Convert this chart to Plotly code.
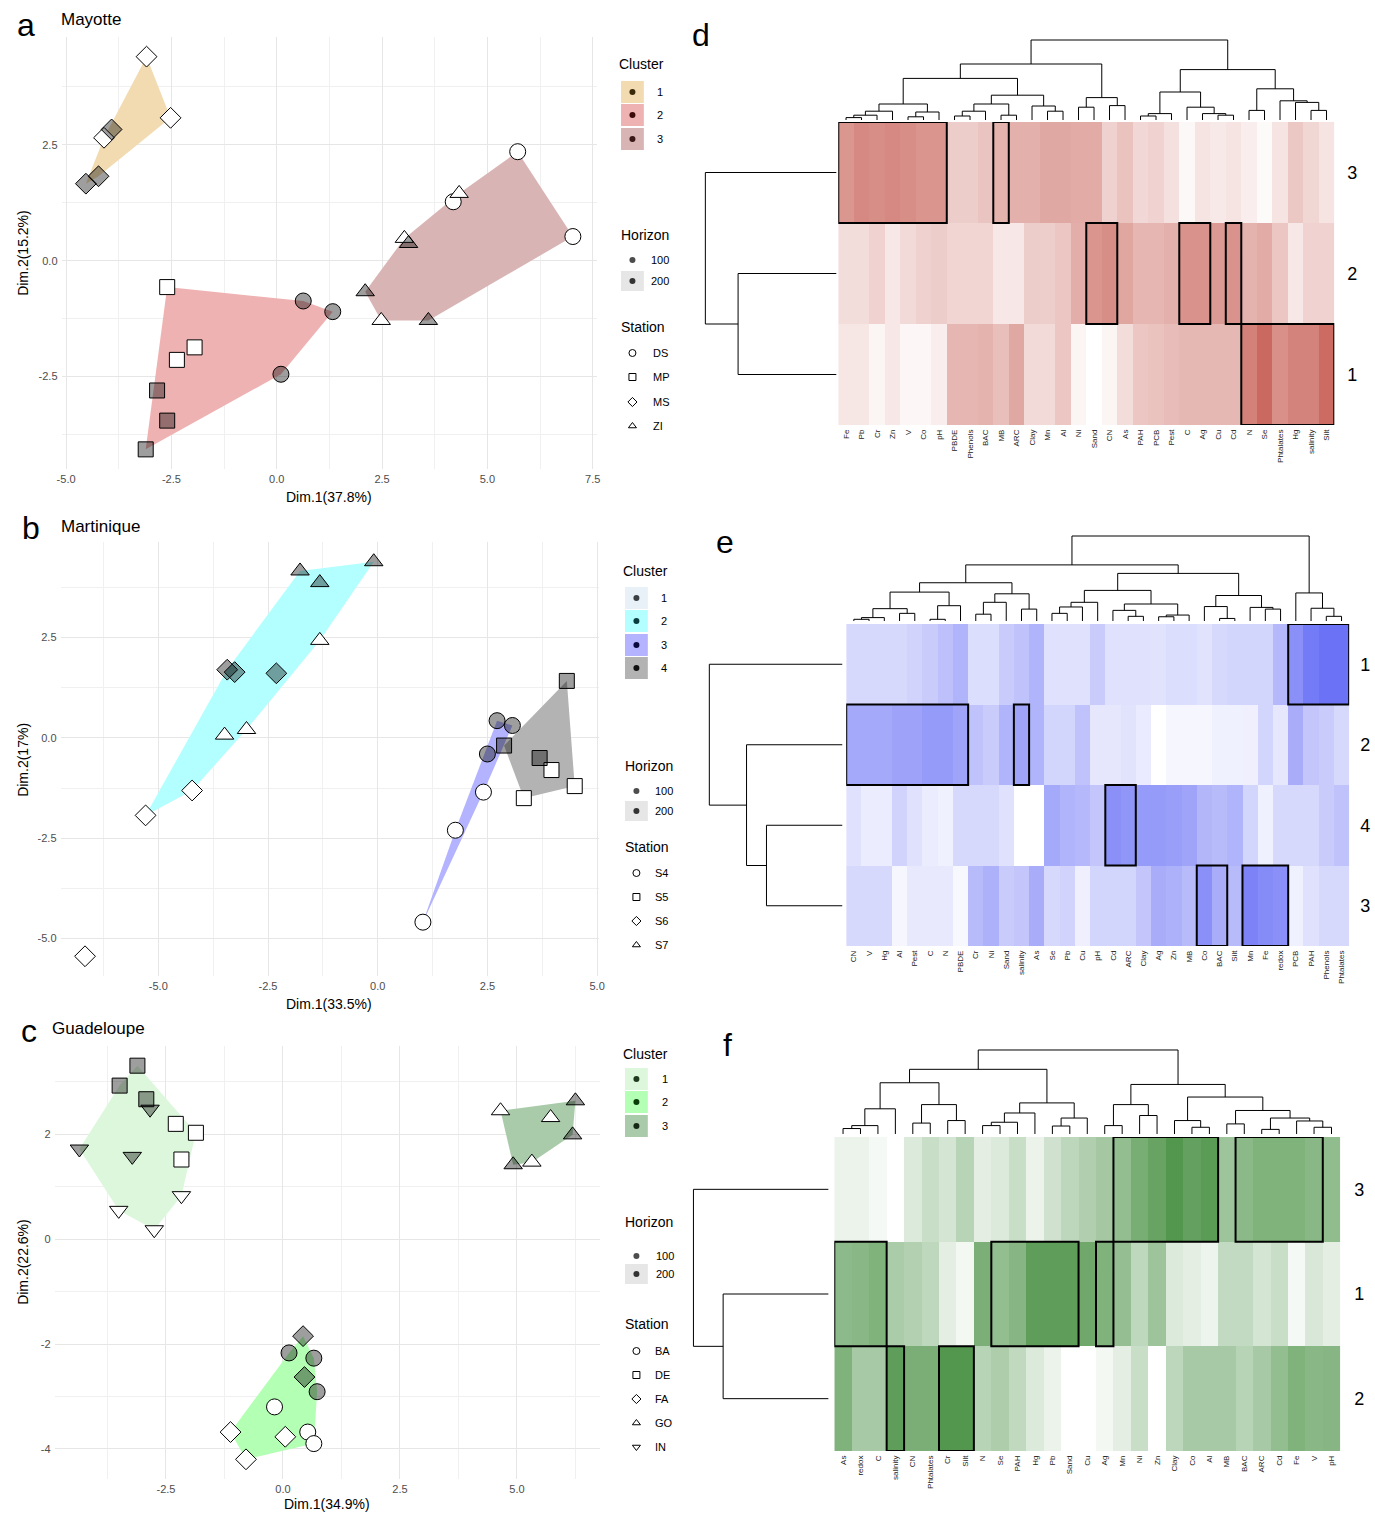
import plotly.graph_objects as go

W, H = 1375, 1514
FONT = "Liberation Sans, Arial, sans-serif"
NARROW = "Liberation Sans Narrow, Liberation Sans, Arial, sans-serif"

# ======================= PCA panels : data =======================
# ---- a : Mayotte ----
a_x = [-3.09, -2.52, -4.10, -3.92, -4.23, -4.53,
       -2.60, -1.95, -2.37, -2.84, -2.60, -3.11,
       0.63, 1.33, 0.10, 5.72, 7.03, 4.19,
       4.33, 3.03, 3.13, 2.10, 2.48, 3.60]
a_y = [4.40, 3.08, 2.65, 2.83, 1.82, 1.66,
       -0.57, -1.87, -2.14, -2.80, -3.45, -4.07,
       -0.87, -1.10, -2.45, 2.35, 0.52, 1.27,
       1.45, 0.48, 0.37, -0.67, -1.29, -1.29]
a_station = ["MS"] * 6 + ["MP"] * 6 + ["DS"] * 6 + ["ZI"] * 6
a_horizon = [100, 100, 100, 200, 200, 200,
             100, 100, 100, 200, 200, 200,
             200, 200, 200, 100, 100, 100,
             100, 100, 200, 200, 100, 200]
a_cluster = [1] * 6 + [2] * 6 + [2, 2, 2, 3, 3, 3] + [3] * 6
a_stations = ["DS", "MP", "MS", "ZI"]
a_clusters = [1, 2, 3]

# ---- b : Martinique ----
b_x = [-1.77, -1.32, -0.09, -1.32, -3.49, -2.99,
       -3.43, -3.26, -2.31, -4.23, -5.29, -6.67,
       2.72, 3.07, 2.50, 2.41, 1.77, 1.03,
       4.31, 2.88, 3.69, 3.96, 4.49, 3.33]
b_y = [4.16, 3.87, 4.39, 2.43, 0.07, 0.21,
       1.70, 1.64, 1.61, -1.31, -1.93, -5.44,
       0.43, 0.31, -0.40, -1.35, -2.30, -4.59,
       1.42, -0.19, -0.50, -0.80, -1.20, -1.50]
b_station = ["S7"] * 6 + ["S6"] * 6 + ["S4"] * 6 + ["S5"] * 6
b_horizon = [200, 200, 200, 100, 100, 100,
             200, 200, 200, 100, 100, 100,
             200, 200, 200, 100, 100, 100,
             200, 200, 200, 100, 100, 100]
b_cluster = [2] * 6 + [2, 2, 2, 2, 2, 1] + [3] * 6 + [4] * 6
b_stations = ["S4", "S5", "S6", "S7"]
b_clusters = [1, 2, 3, 4]

# ---- c : Guadeloupe ----
c_x = [-3.11, -3.49, -2.92, -2.29, -1.86, -2.17,
       -2.84, -4.35, -3.22, -2.17, -3.51, -2.75,
       4.65, 6.25, 5.72, 6.19, 4.92, 5.32,
       0.43, 0.46, -1.12, 0.05, -0.79,
       0.13, 0.66, 0.73, -0.18, 0.53, 0.66]
c_y = [3.31, 2.93, 2.67, 2.20, 2.03, 1.52,
       2.48, 1.72, 1.58, 0.83, 0.55, 0.18,
       2.45, 2.64, 2.32, 1.99, 1.42, 1.47,
       -1.85, -2.63, -3.68, -3.77, -4.20,
       -2.17, -2.27, -2.91, -3.20, -3.68, -3.90]
c_station = ["DE"] * 6 + ["IN"] * 6 + ["GO"] * 6 + ["FA"] * 5 + ["BA"] * 6
c_horizon = [200, 200, 200, 100, 100, 100,
             200, 200, 200, 100, 100, 100,
             100, 200, 100, 200, 200, 100,
             200, 200, 100, 100, 100,
             200, 200, 200, 100, 100, 100]
c_cluster = [1] * 12 + [3] * 6 + [2] * 11
c_stations = ["BA", "DE", "FA", "GO", "IN"]
c_clusters = [1, 2, 3]

# axis ticks
a_xticks = [-5.0, -2.5, 0.0, 2.5, 5.0, 7.5]
a_yticks = [-2.5, 0.0, 2.5]
b_xticks = [-5.0, -2.5, 0.0, 2.5, 5.0]
b_yticks = [-5.0, -2.5, 0.0, 2.5]
c_xticks = [-2.5, 0.0, 2.5, 5.0]
c_yticks = [-4, -2, 0, 2]

# ======================= Heatmap panels : data =======================
d_cols = ["Fe", "Pb", "Cr", "Zn", "V", "Co", "pH", "PBDE", "Phenols", "BAC", "MB", "ARC",
          "Clay", "Mn", "Al", "Ni", "Sand", "CN", "As", "PAH", "PCB", "Pest", "C", "Ag",
          "Cu", "Cd", "N", "Se", "Phtalates", "Hg", "salinity", "Silt"]
d_rows = ["3", "2", "1"]
d_row3 = [0.62, 0.70, 0.67, 0.70, 0.67, 0.63, 0.63, 0.30, 0.30, 0.35, 0.45, 0.47,
          0.47, 0.52, 0.52, 0.50, 0.50, 0.27, 0.36, 0.23, 0.26, 0.18, 0.04, 0.16,
          0.13, 0.16, 0.10, 0.03, 0.16, 0.33, 0.24, 0.16]
d_row2 = [0.20, 0.20, 0.26, 0.14, 0.22, 0.27, 0.30, 0.25, 0.25, 0.25, 0.14, 0.14,
          0.30, 0.29, 0.34, 0.48, 0.63, 0.67, 0.53, 0.43, 0.43, 0.47, 0.64, 0.64,
          0.60, 0.64, 0.45, 0.50, 0.34, 0.14, 0.26, 0.26]
d_row1 = [0.15, 0.15, 0.06, 0.14, 0.05, 0.05, 0.10, 0.43, 0.43, 0.45, 0.38, 0.52,
          0.22, 0.22, 0.34, 0.06, 0.00, 0.06, 0.20, 0.34, 0.36, 0.39, 0.42, 0.42,
          0.42, 0.42, 0.75, 0.89, 0.66, 0.74, 0.74, 0.88]
d_boxes = [("3", "Fe", "pH"), ("3", "MB", "MB"), ("2", "Sand", "CN"),
           ("2", "C", "Ag"), ("2", "Cd", "Cd"), ("1", "N", "Silt")]

e_cols = ["CN", "V", "Hg", "Al", "Pest", "C", "N", "PBDE", "Cr", "Ni", "Sand", "salinity",
          "As", "Se", "Pb", "Cu", "pH", "Cd", "ARC", "Clay", "Ag", "Zn", "MB", "Co", "BAC",
          "Silt", "Mn", "Fe", "redox", "PCB", "PAH", "Phenols", "Phtalates"]
e_rows = ["1", "2", "4", "3"]
e_row1 = [0.24, 0.24, 0.24, 0.24, 0.28, 0.33, 0.40, 0.48, 0.21, 0.21, 0.33, 0.38,
          0.48, 0.19, 0.19, 0.19, 0.33, 0.19, 0.19, 0.19, 0.18, 0.21, 0.21, 0.18,
          0.24, 0.27, 0.27, 0.27, 0.45, 0.71, 0.84, 0.90, 0.90]
e_row2 = [0.55, 0.55, 0.55, 0.59, 0.59, 0.64, 0.64, 0.58, 0.38, 0.33, 0.48, 0.58,
          0.48, 0.27, 0.27, 0.38, 0.15, 0.15, 0.18, 0.13, 0.00, 0.06, 0.06, 0.06,
          0.09, 0.09, 0.10, 0.27, 0.15, 0.53, 0.36, 0.33, 0.24]
e_row4 = [0.19, 0.12, 0.12, 0.28, 0.19, 0.12, 0.09, 0.24, 0.24, 0.24, 0.19, 0.00,
          0.00, 0.55, 0.48, 0.45, 0.36, 0.71, 0.67, 0.64, 0.64, 0.62, 0.58, 0.46,
          0.43, 0.48, 0.27, 0.09, 0.24, 0.24, 0.24, 0.33, 0.38]
e_row3 = [0.24, 0.24, 0.24, 0.06, 0.14, 0.14, 0.14, 0.05, 0.43, 0.50, 0.33, 0.36,
          0.53, 0.24, 0.28, 0.10, 0.27, 0.27, 0.27, 0.36, 0.53, 0.50, 0.43, 0.71,
          0.53, 0.43, 0.79, 0.74, 0.71, 0.09, 0.19, 0.24, 0.24]
e_boxes = [("1", "PCB", "Phtalates"), ("2", "CN", "PBDE"), ("2", "salinity", "salinity"),
           ("4", "Cd", "ARC"), ("3", "Co", "BAC"), ("3", "Mn", "redox")]

f_cols = ["As", "redox", "C", "salinity", "CN", "Phtalates", "Cr", "Silt", "N", "Se", "PAH",
          "Hg", "Pb", "Sand", "Cu", "Ag", "Mn", "Ni", "Zn", "Clay", "Co", "Al", "MB", "BAC",
          "ARC", "Cd", "Fe", "V", "pH"]
f_rows = ["3", "1", "2"]
f_row3 = [0.10, 0.10, 0.05, 0.00, 0.18, 0.28, 0.22, 0.36, 0.14, 0.18, 0.28, 0.10,
          0.24, 0.34, 0.40, 0.46, 0.55, 0.69, 0.77, 0.88, 0.79, 0.84, 0.50, 0.59,
          0.65, 0.65, 0.65, 0.60, 0.56]
f_row1 = [0.58, 0.60, 0.65, 0.43, 0.39, 0.33, 0.14, 0.06, 0.67, 0.55, 0.61, 0.82,
          0.82, 0.82, 0.73, 0.65, 0.54, 0.33, 0.50, 0.18, 0.14, 0.09, 0.31, 0.31,
          0.22, 0.28, 0.05, 0.20, 0.14]
f_row2 = [0.65, 0.45, 0.45, 0.82, 0.68, 0.68, 0.88, 0.88, 0.36, 0.42, 0.32, 0.18,
          0.10, 0.00, 0.00, 0.06, 0.14, 0.28, 0.00, 0.34, 0.45, 0.45, 0.45, 0.36,
          0.45, 0.55, 0.65, 0.60, 0.61]
f_boxes = [("3", "Mn", "Al"), ("3", "BAC", "V"), ("1", "As", "C"), ("1", "Se", "Sand"),
           ("1", "Ag", "Ag"), ("2", "salinity", "salinity"), ("2", "Cr", "Silt")]


# dendrogram trees: (height, left, right), leaves are labels
def N(h, a, b):
    return (h, a, b)


d_coltree = N(1.0,
              N(0.70,
                N(0.52,
                  N(0.20, N(0.11, N(0.06, N(0.03, "Fe", "Pb"), "Cr"), "Zn"),
                    N(0.10, N(0.04, "V", "Co"), "pH")),
                  N(0.31, N(0.20, N(0.11, N(0.05, "PBDE", "Phenols"), "BAC"), N(0.06, "MB", "ARC")),
                    N(0.175, "Clay", N(0.11, "Mn", "Al")))),
                N(0.28, N(0.16, "Ni", "Sand"), N(0.18, "CN", "As"))),
              N(0.63,
                N(0.35, N(0.08, N(0.05, "PAH", "PCB"), "Pest"),
                  N(0.16, "C", N(0.08, "Ag", N(0.06, "Cu", "Cd")))),
                N(0.39, N(0.12, "N", "Se"),
                  N(0.24, "Phtalates", N(0.22, "Hg", N(0.12, "salinity", "Silt"))))))
d_rowtree = N(1.0, "3", N(0.75, "2", "1"))

e_coltree = N(1.0,
              N(0.66,
                N(0.45,
                  N(0.34, N(0.145, N(0.04, N(0.02, "CN", "V"), "Hg"), N(0.09, "Al", "Pest")),
                    N(0.18, N(0.02, "C", "N"), "PBDE")),
                  N(0.32, N(0.22, N(0.08, "Cr", "Ni"), "Sand"), N(0.14, "salinity", "As"))),
                N(0.56,
                  N(0.36, N(0.22, N(0.165, N(0.09, "Se", "Pb"), "Cu"), "pH"),
                    N(0.20, N(0.125, "Cd", N(0.055, "ARC", "Clay")),
                      N(0.07, N(0.05, "Ag", "Zn"), "MB"))),
                  N(0.30, N(0.17, "Co", N(0.03, "BAC", "Silt")),
                    N(0.16, "Mn", N(0.14, "Fe", "redox"))))),
              N(0.33, "PCB", N(0.15, "PAH", N(0.055, "Phenols", "Phtalates"))))
e_rowtree = N(1.0, "1", N(0.72, "2", N(0.57, "4", "3")))

f_coltree = N(1.0,
              N(0.77,
                N(0.61, N(0.30, N(0.10, N(0.065, "As", "redox"), "C"), "salinity"),
                  N(0.35, N(0.13, "CN", "Phtalates"), N(0.16, "Cr", "Silt"))),
                N(0.37, N(0.25, N(0.14, N(0.10, "N", "Se"), "PAH"), "Hg"),
                  N(0.19, N(0.095, "Pb", "Sand"), "Cu"))),
              N(0.59,
                N(0.35, N(0.10, "Ag", "Mn"), N(0.22, "Ni", "Zn")),
                N(0.44, N(0.16, "Clay", N(0.08, "Co", "Al")),
                  N(0.28, N(0.12, "MB", "BAC"),
                    N(0.19, N(0.055, "ARC", "Cd"), N(0.155, "Fe", N(0.08, "V", "pH")))))))
f_rowtree = N(1.0, "3", N(0.78, "1", "2"))

# ======================= helpers =======================
def dom_x(p0, p1):
    return [p0 / W, p1 / W]


def dom_y(ptop, pbot):
    return [1 - pbot / H, 1 - ptop / H]


def convex_hull(pts):
    pts = sorted(set(pts))
    if len(pts) < 3:
        return pts

    def cross(o, a, b):
        return (a[0] - o[0]) * (b[1] - o[1]) - (a[1] - o[1]) * (b[0] - o[0])

    lower, upper = [], []
    for p in pts:
        while len(lower) >= 2 and cross(lower[-2], lower[-1], p) <= 0:
            lower.pop()
        lower.append(p)
    for p in reversed(pts):
        while len(upper) >= 2 and cross(upper[-2], upper[-1], p) <= 0:
            upper.pop()
        upper.append(p)
    return lower[:-1] + upper[:-1]


def dendro_path(tree, pos):
    xs, hs = [], []

    def rec(t):
        if isinstance(t, str):
            return pos[t], 0.0
        h, a, b = t
        xa, ha = rec(a)
        xb, hb = rec(b)
        xs.extend([xa, xa, xb, xb, None])
        hs.extend([ha, h, h, hb, None])
        return (xa + xb) / 2, h

    rec(tree)
    return xs, hs


def minors(ticks, lo, hi):
    step = ticks[1] - ticks[0]
    out = []
    t = ticks[0] - step / 2
    while t > lo:
        out.append(t)
        t -= step
    t = ticks[0] + step / 2
    while t < hi:
        out.append(t)
        t += step
    return sorted(out)


def expand(v, f=0.05):
    lo, hi = min(v), max(v)
    d = (hi - lo) * f
    return [lo - d, hi + d]


fig = go.Figure()
annotations = []
shapes = []

SIZES = {"circle": 16, "square": 15, "diamond": 16, "triangle-up": 16, "triangle-down": 16}
FILL200 = "rgba(0,0,0,0.38)"


def pca_panel(idx, xs, ys, stations, horizons, clusters, st_order, symbols, cl_colors,
              xticks, yticks, xfmt, yfmt, box):
    xa = "x" if idx == 1 else "x%d" % idx
    ya = "y" if idx == 1 else "y%d" % idx
    for cl in sorted(set(clusters)):
        pts = [(x, y) for x, y, c in zip(xs, ys, clusters) if c == cl]
        hp = convex_hull(pts)
        if len(hp) >= 3:
            fig.add_trace(go.Scatter(x=[p[0] for p in hp] + [hp[0][0]],
                                     y=[p[1] for p in hp] + [hp[0][1]],
                                     mode="lines", fill="toself", fillcolor=cl_colors[cl - 1],
                                     line=dict(width=0), hoverinfo="skip",
                                     xaxis=xa, yaxis=ya))
    for st, sym in zip(st_order, symbols):
        for hz in (100, 200):
            px = [x for x, s, h in zip(xs, stations, horizons) if s == st and h == hz]
            py = [y for y, s, h in zip(ys, stations, horizons) if s == st and h == hz]
            if not px:
                continue
            fig.add_trace(go.Scatter(x=px, y=py, mode="markers",
                                     marker=dict(symbol=sym, size=SIZES[sym],
                                                 color="white" if hz == 100 else FILL200,
                                                 line=dict(color="black", width=1)),
                                     xaxis=xa, yaxis=ya, hoverinfo="skip"))
    xr = expand(xs)
    yr = expand(ys)
    common = dict(showline=False, zeroline=False, ticks="", showgrid=True,
                  gridcolor="#e6e6e6", gridwidth=1.4,
                  tickfont=dict(size=11, color="#4d4d4d", family=FONT))
    x_key = "xaxis" if idx == 1 else "xaxis%d" % idx
    y_key = "yaxis" if idx == 1 else "yaxis%d" % idx
    fig.layout[x_key] = dict(domain=dom_x(box[0], box[1]), range=xr, anchor=ya,
                             tickvals=xticks, ticktext=[xfmt.format(t) for t in xticks],
                             minor=dict(tickvals=minors(xticks, xr[0], xr[1]), showgrid=True,
                                        gridcolor="#f0f0f0", gridwidth=0.8),
                             ticklabelstandoff=2, **common)
    fig.layout[y_key] = dict(domain=dom_y(box[2], box[3]), range=yr, anchor=xa,
                             tickvals=yticks, ticktext=[yfmt.format(t) for t in yticks],
                             minor=dict(tickvals=minors(yticks, yr[0], yr[1]), showgrid=True,
                                        gridcolor="#f0f0f0", gridwidth=0.8),
                             ticklabelstandoff=3, **common)


a_cols = ["#f2dbb1", "#efb2b2", "#d9b4b4"]
b_cols = ["#e8f1f7", "#b3ffff", "#b3b3ff", "#b3b3b3"]
c_cols = ["#dcf7dc", "#b3ffb3", "#aacbaa"]

pca_panel(1, a_x, a_y, a_station, a_horizon, a_cluster, a_stations,
          ["circle", "square", "diamond", "triangle-up"], a_cols,
          a_xticks, a_yticks, "{:.1f}", "{:.1f}", (57, 597, 37, 469))
pca_panel(2, b_x, b_y, b_station, b_horizon, b_cluster, b_stations,
          ["circle", "square", "diamond", "triangle-up"], b_cols,
          b_xticks, b_yticks, "{:.1f}", "{:.1f}", (56, 599, 542, 976))
pca_panel(3, c_x, c_y, c_station, c_horizon, c_cluster, c_stations,
          ["circle", "square", "diamond", "triangle-up", "triangle-down"], c_cols,
          c_xticks, c_yticks, "{:.1f}", "{:d}", (50, 600, 1046, 1479))


# ======================= heatmap panels =======================
def heat_panel(base, cols, rows, zrows, boxes, coltree, rowtree, cmax, geo, rlab_off):
    hx0, hx1, hy0, hy1, cd_h0, cd_h1, rd_h0, rd_h1 = geo
    n, m = len(cols), len(rows)
    xh, yh = "x%d" % base, "y%d" % base
    xc, yc = "x%d" % (base + 1), "y%d" % (base + 1)
    xr_, yr_ = "x%d" % (base + 2), "y%d" % (base + 2)
    fig.add_trace(go.Heatmap(z=zrows, x=list(range(n)), y=list(range(m)),
                             colorscale=[[0, "#ffffff"], [1, cmax]], zmin=0, zmax=1,
                             showscale=False, hoverinfo="skip", xaxis=xh, yaxis=yh))
    pad = 0.03
    fig.layout["xaxis%d" % base] = dict(domain=dom_x(hx0, hx1), range=[-0.5, n - 0.5], anchor=yh,
                                        tickvals=list(range(n)), ticktext=cols, tickangle=-90,
                                        tickfont=dict(size=8, family=NARROW, color="#222"),
                                        showgrid=False, zeroline=False, showline=False, ticks="",
                                        ticklabelstandoff=2)
    fig.layout["yaxis%d" % base] = dict(domain=dom_y(hy0, hy1), range=[m - 0.5, -0.5], anchor=xh,
                                        tickvals=list(range(m)), ticktext=rows, side="right",
                                        tickfont=dict(size=18, family=FONT, color="black"),
                                        showgrid=False, zeroline=False, showline=False, ticks="",
                                        ticklabelstandoff=rlab_off)
    for r, c0, c1 in boxes:
        ri = rows.index(r)
        shapes.append(dict(type="rect", xref=xh, yref=yh,
                           x0=cols.index(c0) - 0.5, x1=cols.index(c1) + 0.5,
                           y0=ri - 0.5, y1=ri + 0.5,
                           line=dict(color="black", width=2), fillcolor="rgba(0,0,0,0)"))
    pos = {c: i for i, c in enumerate(cols)}
    dx, dh = dendro_path(coltree, pos)
    fig.add_trace(go.Scatter(x=dx, y=dh, mode="lines", line=dict(color="black", width=1),
                             hoverinfo="skip", xaxis=xc, yaxis=yc))
    span = cd_h0 - cd_h1
    fig.layout["xaxis%d" % (base + 1)] = dict(domain=dom_x(hx0, hx1), range=[-0.5, n - 0.5],
                                              anchor=yc, visible=False)
    fig.layout["yaxis%d" % (base + 1)] = dict(domain=dom_y(cd_h1 - pad * span, cd_h0 + pad * span),
                                              range=[-pad, 1 + pad], anchor=xc, visible=False)
    rpos = {r: i for i, r in enumerate(rows)}
    ry, rh = dendro_path(rowtree, rpos)
    fig.add_trace(go.Scatter(x=rh, y=ry, mode="lines", line=dict(color="black", width=1),
                             hoverinfo="skip", xaxis=xr_, yaxis=yr_))
    span = rd_h0 - rd_h1
    fig.layout["xaxis%d" % (base + 2)] = dict(domain=dom_x(rd_h1 - pad * span, rd_h0 + pad * span),
                                              range=[1 + pad, -pad], anchor=yr_, visible=False)
    fig.layout["yaxis%d" % (base + 2)] = dict(domain=dom_y(hy0, hy1), range=[m - 0.5, -0.5],
                                              anchor=xr_, visible=False)


heat_panel(4, d_cols, d_rows, [d_row3, d_row2, d_row1], d_boxes, d_coltree, d_rowtree,
           "#c4574c", (840, 1340, 122, 425, 120, 40, 838, 706), 12)
heat_panel(7, e_cols, e_rows, [e_row1, e_row2, e_row4, e_row3], e_boxes, e_coltree, e_rowtree,
           "#5a62f4", (848, 1355, 624, 946, 621, 536, 844, 710), 10)
heat_panel(10, f_cols, f_rows, [f_row3, f_row1, f_row2], f_boxes, f_coltree, f_rowtree,
           "#3b8836", (836, 1346, 1137, 1451, 1134, 1050, 830, 694), 13)

# ======================= overlay (page pixels) for legends & labels =======================
OV_X, OV_Y = "x13", "y13"
fig.layout["xaxis13"] = dict(domain=[0, 1], range=[0, W], visible=False, anchor="y13")
fig.layout["yaxis13"] = dict(domain=[0, 1], range=[H, 0], visible=False, anchor="x13")


def text(x, y, s, size, xanchor="left", color="black", angle=0, family=FONT):
    annotations.append(dict(x=x, y=y, xref=OV_X, yref=OV_Y, text=s, showarrow=False,
                            xanchor=xanchor, yanchor="middle", textangle=angle,
                            font=dict(size=size, color=color, family=family)))


def legend_block(bx, cl_title_y, cl_ys, cl_cols, cl_dots, hz_title_y, hz_ys, st_title_y, st_ys,
                 st_labels, st_syms, lab_x, st_lab_x):
    text(bx - 3, cl_title_y, "Cluster", 14)
    dx, dy, dc = [], [], []
    for yy, colr, dcol, lab in zip(cl_ys, cl_cols, cl_dots, range(1, len(cl_ys) + 1)):
        shapes.append(dict(type="rect", xref=OV_X, yref=OV_Y, x0=bx + 1, x1=bx + 24,
                           y0=yy - 11, y1=yy + 11, fillcolor=colr, line=dict(width=0),
                           layer="below"))
        dx.append(bx + 12.5)
        dy.append(yy)
        dc.append(dcol)
        text(lab_x, yy, str(lab), 11)
    fig.add_trace(go.Scatter(x=dx, y=dy, mode="markers", marker=dict(size=6, color=dc),
                             xaxis=OV_X, yaxis=OV_Y, hoverinfo="skip"))
    text(bx - 1, hz_title_y, "Horizon", 14)
    shapes.append(dict(type="rect", xref=OV_X, yref=OV_Y, x0=bx + 1, x1=bx + 24,
                       y0=hz_ys[1] - 10, y1=hz_ys[1] + 10, fillcolor="#e6e6e6",
                       line=dict(width=0), layer="below"))
    fig.add_trace(go.Scatter(x=[bx + 12.5, bx + 12.5], y=hz_ys, mode="markers",
                             marker=dict(size=6, color=["#4d4d4d", "#333333"]),
                             xaxis=OV_X, yaxis=OV_Y, hoverinfo="skip"))
    text(lab_x - 6, hz_ys[0], "100", 11)
    text(lab_x - 6, hz_ys[1], "200", 11)
    text(bx - 1, st_title_y, "Station", 14)
    fig.add_trace(go.Scatter(x=[bx + 12.5] * len(st_ys), y=st_ys, mode="markers",
                             marker=dict(size=7, symbol=[s + "-open" for s in st_syms],
                                         color="black", line=dict(width=1)),
                             xaxis=OV_X, yaxis=OV_Y, hoverinfo="skip"))
    for yy, lab in zip(st_ys, st_labels):
        text(st_lab_x, yy, lab, 11)


legend_block(620, 64, [92, 115, 139], a_cols, ["#3b2a0a", "#3d0a0a", "#3a1818"],
             235, [260, 281], 327, [353, 377, 402, 426], a_stations,
             ["circle", "square", "diamond", "triangle-up"], 655, 651)
legend_block(624, 571, [598, 621, 645, 668], b_cols, ["#3a4045", "#0a3d3d", "#0a0a40", "#111111"],
             766, [791, 811], 847, [873, 897, 921, 945], b_stations,
             ["circle", "square", "diamond", "triangle-up"], 659, 653)
legend_block(624, 1054, [1079, 1102, 1126], c_cols, ["#203a20", "#0a3d0a", "#142814"],
             1222, [1256, 1274], 1324, [1351, 1375, 1399, 1423, 1447], c_stations,
             ["circle", "square", "diamond", "triangle-up", "triangle-down"], 660, 653)

# titles, letters, axis titles
text(21, 25, "a", 32, "center")
text(54, 19, "Mayotte", 17)
text(26, 528, "b", 32, "center")
text(54, 526, "Martinique", 17)
text(24, 1031, "c", 32, "center")
text(45, 1028, "Guadeloupe", 17)
text(702, 35, "d", 32, "center")
text(726, 542, "e", 32, "center")
text(728, 1045, "f", 32, "center")

text(327, 497, "Dim.1(37.8%)", 14, "center")
text(18, 253, "Dim.2(15.2%)", 14, "center", angle=-90)
text(327, 1004, "Dim.1(33.5%)", 14, "center")
text(18, 760, "Dim.2(17%)", 14, "center", angle=-90)
text(325, 1504, "Dim.1(34.9%)", 14, "center")
text(18, 1262, "Dim.2(22.6%)", 14, "center", angle=-90)

fig.update_layout(width=W, height=H, margin=dict(l=0, r=0, t=0, b=0),
                  paper_bgcolor="white", plot_bgcolor="rgba(0,0,0,0)",
                  showlegend=False, font=dict(family=FONT),
                  annotations=annotations, shapes=shapes)

fig.write_html("out.html", config={"displayModeBar": False},
               post_script="document.body.style.margin='0';document.body.style.overflow='hidden';")
